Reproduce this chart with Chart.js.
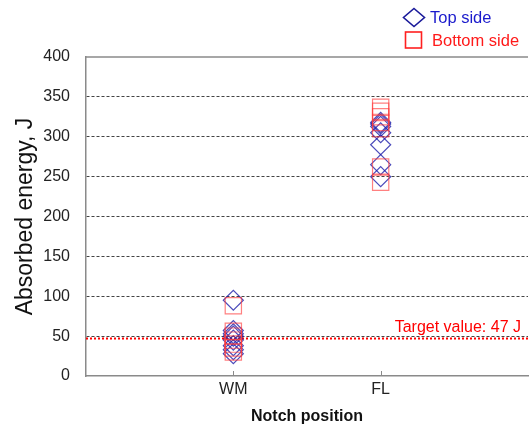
<!DOCTYPE html>
<html>
<head>
<meta charset="utf-8">
<script src="https://cdn.jsdelivr.net/npm/chart.js@4.4.1/dist/chart.umd.min.js"></script>
<style>
  html, body { margin: 0; padding: 0; background: #fff; }
  #wrap { width: 531px; height: 428px; }
</style>
</head>
<body>
<div id="wrap"><canvas id="graphique"></canvas></div>
<script>
// Positions sur l'axe x : 1 = WM, 2 = FL
const positionsEntaille = ['', 'WM', 'FL', ''];

// Energie absorbée (J), côté haut (losanges bleus)
const coteHautWM = [95, 57, 53, 50, 45, 38, 33, 28];
const coteHautFL = [318, 316, 313, 305, 290, 265, 250];

// Energie absorbée (J), côté bas (carrés rouges)
const coteBasWM = [88, 56, 50, 45, 40, 35, 30];
const coteBasFL = [337, 332, 325, 318, 310, 262, 243];

const valeurCible = 47;
const graduationsY = [0, 50, 100, 150, 200, 250, 300, 350, 400];

const police = "'Liberation Sans', Arial, sans-serif";

function enPoints(x, valeurs) {
    return valeurs.map(v => ({ x: x, y: v }));
}

// Cadre, petites graduations en x, légende et texte de la valeur cible
const pluginDecor = {
    id: 'decor',
    afterDraw(chart) {
        const ctx = chart.ctx;
        const zone = chart.chartArea;
        const sx = chart.scales.x;
        const sy = chart.scales.y;
        ctx.save();

        ctx.strokeStyle = '#8a8a8a';
        ctx.lineWidth = 1.5;
        ctx.beginPath();
        ctx.moveTo(zone.left, zone.top);
        ctx.lineTo(zone.right, zone.top);
        ctx.stroke();

        ctx.lineWidth = 1;
        [1, 2].forEach(v => {
            const px = Math.round(sx.getPixelForValue(v)) + 0.5;
            ctx.beginPath();
            ctx.moveTo(px, zone.bottom);
            ctx.lineTo(px, zone.bottom - 5);
            ctx.stroke();
        });

        ctx.font = '16px ' + police;
        ctx.fillStyle = '#ff0000';
        ctx.textAlign = 'right';
        ctx.textBaseline = 'middle';
        ctx.fillText('Target value: ' + valeurCible + ' J', zone.right - 7, sy.getPixelForValue(valeurCible) - 11);

        // légende
        ctx.lineWidth = 1.6;
        ctx.strokeStyle = '#1a1a9a';
        ctx.beginPath();
        ctx.moveTo(414, 8.5);
        ctx.lineTo(424.5, 17.5);
        ctx.lineTo(414, 26.5);
        ctx.lineTo(403.5, 17.5);
        ctx.closePath();
        ctx.stroke();
        ctx.strokeStyle = '#ff2020';
        ctx.strokeRect(405.5, 32, 16, 16);

        ctx.font = '16.5px ' + police;
        ctx.textAlign = 'left';
        ctx.fillStyle = '#1a1acc';
        ctx.fillText('Top side', 430, 18);
        ctx.fillStyle = '#ff1a1a';
        ctx.fillText('Bottom side', 432, 41);
        ctx.restore();
    }
};

const ctx = document.getElementById('graphique');

new Chart(ctx, {
    type: 'scatter',
    data: {
        datasets: [
            {
                label: 'Bottom side',
                data: enPoints(1, coteBasWM).concat(enPoints(2, coteBasFL)),
                pointStyle: 'rect',
                pointRadius: 11.5,
                pointHoverRadius: 11.5,
                borderColor: 'rgba(255, 60, 60, 0.65)',
                backgroundColor: 'rgba(0,0,0,0)',
                pointBorderWidth: 1.2,
            },
            {
                label: 'Top side',
                data: enPoints(1, coteHautWM).concat(enPoints(2, coteHautFL)),
                pointStyle: 'rectRot',
                pointRadius: 10,
                pointHoverRadius: 10,
                borderColor: 'rgba(30, 30, 170, 0.8)',
                backgroundColor: 'rgba(0,0,0,0)',
                pointBorderWidth: 1.2,
            },
            {
                type: 'line',
                label: 'Target',
                data: [{ x: 0, y: valeurCible }, { x: 3, y: valeurCible }],
                borderColor: '#ff0000',
                borderWidth: 2,
                borderDash: [2, 2],
                pointRadius: 0,
            },
        ],
    },
    options: {
        responsive: true,
        maintainAspectRatio: false,
        animation: false,
        layout: { autoPadding: false, padding: { top: 57, right: 3, left: 0, bottom: 0 } },
        plugins: {
            legend: { display: false },
            tooltip: { enabled: false },
        },
        scales: {
            x: {
                type: 'linear',
                min: 0,
                max: 3,
                afterBuildTicks: axe => { axe.ticks = [1, 2].map(v => ({ value: v })); },
                afterFit: axe => {
                    axe.height = 52;
                    axe.paddingLeft = 0;
                    axe.paddingRight = 0;
                },
                border: { color: '#8a8a8a', width: 1.5 },
                grid: { display: false, drawTicks: false },
                ticks: {
                    padding: 4,
                    color: '#222',
                    font: { family: police, size: 16 },
                    callback: v => positionsEntaille[v],
                },
                title: {
                    display: true,
                    text: 'Notch position',
                    color: '#111',
                    font: { family: police, size: 16, weight: 'bold' },
                    padding: { top: 0, bottom: 2 },
                },
            },
            y: {
                min: 0,
                max: 400,
                afterBuildTicks: axe => { axe.ticks = graduationsY.map(v => ({ value: v })); },
                afterFit: axe => { axe.width = 86; },
                border: { color: '#8a8a8a', width: 1.5, dash: [3, 2] },
                grid: {
                    drawTicks: false,
                    color: c => (c.tick.value === 0 || c.tick.value === 400) ? 'rgba(0,0,0,0)' : '#444',
                    lineWidth: 1,
                },
                ticks: {
                    padding: 16,
                    color: '#222',
                    font: { family: police, size: 16 },
                },
                title: {
                    display: true,
                    text: 'Absorbed energy, J',
                    color: '#111',
                    font: { family: police, size: 23 },
                    padding: { top: 12, bottom: 0 },
                },
            },
        },
    },
    plugins: [pluginDecor],
});
</script>
</body>
</html>
